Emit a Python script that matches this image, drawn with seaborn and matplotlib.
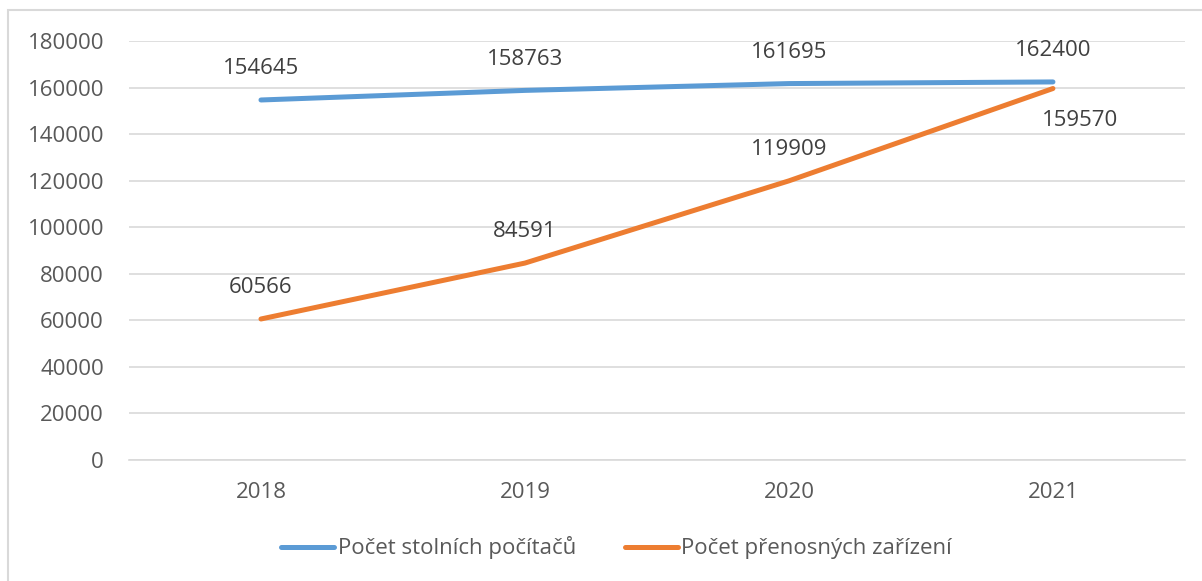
import matplotlib
matplotlib.use("Agg")
import matplotlib.pyplot as plt
import pandas as pd
import seaborn as sns
from matplotlib.patches import Rectangle

years = ["2018", "2019", "2020", "2021"]
desktops = [154645, 158763, 161695, 162400]
laptops = [60566, 84591, 119909, 159570]
series_names = ["Počet stolních počítačů", "Počet přenosných zařízení"]
y_ticks = list(range(0, 180001, 20000))

BLUE = "#5B9BD5"
ORANGE = "#ED7D31"
TEXT = "#595959"
LABEL = "#404040"
GRID = "#D9D9D9"
FS = 16


def main() -> None:
    sns.set_theme(style="white")
    plt.rcParams["font.family"] = ["Open Sans", "DejaVu Sans"]

    df = pd.DataFrame({
        "year": years * 2,
        "value": desktops + laptops,
        "series": [series_names[0]] * len(years) + [series_names[1]] * len(years),
    })

    fig = plt.figure(figsize=(12.02, 5.81), dpi=100)
    fig.patches.append(Rectangle((0.0067, -0.01), 1.0, 0.992, transform=fig.transFigure,
                                 fill=False, edgecolor=GRID, linewidth=1.5))
    ax = fig.add_axes([0.1073, 0.2083, 0.8785, 0.7212])

    sns.lineplot(data=df, x="year", y="value", hue="series",
                 palette=[BLUE, ORANGE], linewidth=3.6, ax=ax, legend=False,
                 solid_capstyle="round")

    ax.set_xlim(-0.5, 3.5)
    ax.set_ylim(0, 180000)
    ax.set_yticks(y_ticks)
    ax.set_yticklabels([str(t) for t in y_ticks])
    ax.yaxis.grid(True, color=GRID, linewidth=1.2)
    ax.set_axisbelow(True)
    for side in ["left", "right", "top"]:
        ax.spines[side].set_visible(False)
    ax.spines["bottom"].set_color(GRID)
    ax.spines["bottom"].set_linewidth(1.2)
    ax.tick_params(axis="both", length=0, labelsize=FS, labelcolor=TEXT)
    ax.tick_params(axis="y", pad=18)
    ax.tick_params(axis="x", pad=16)
    ax.set_xlabel("")
    ax.set_ylabel("")

    # data labels: above the point, except the last laptop value (below right)
    for i, v in enumerate(desktops):
        ax.annotate(str(v), (i, v), xytext=(0, 22.5), textcoords="offset points",
                    ha="center", va="center", fontsize=FS, color=LABEL)
    for i, v in enumerate(laptops):
        off = (0, 22.5) if i < 3 else (19.5, -23)
        ax.annotate(str(v), (i, v), xytext=off, textcoords="offset points",
                    ha="center", va="center", fontsize=FS, color=LABEL)

    handles = [plt.Line2D([], [], color=c, linewidth=3.6, solid_capstyle="round") for c in (BLUE, ORANGE)]
    fig.legend(handles, series_names, loc="center", bbox_to_anchor=(0.513, 0.057), ncol=2,
               frameon=False, fontsize=FS, labelcolor=TEXT, handlelength=2.4,
               handletextpad=0.15, columnspacing=2.2)

    fig.savefig("out.png", dpi=100)
    plt.close(fig)


if __name__ == "__main__":
    main()
